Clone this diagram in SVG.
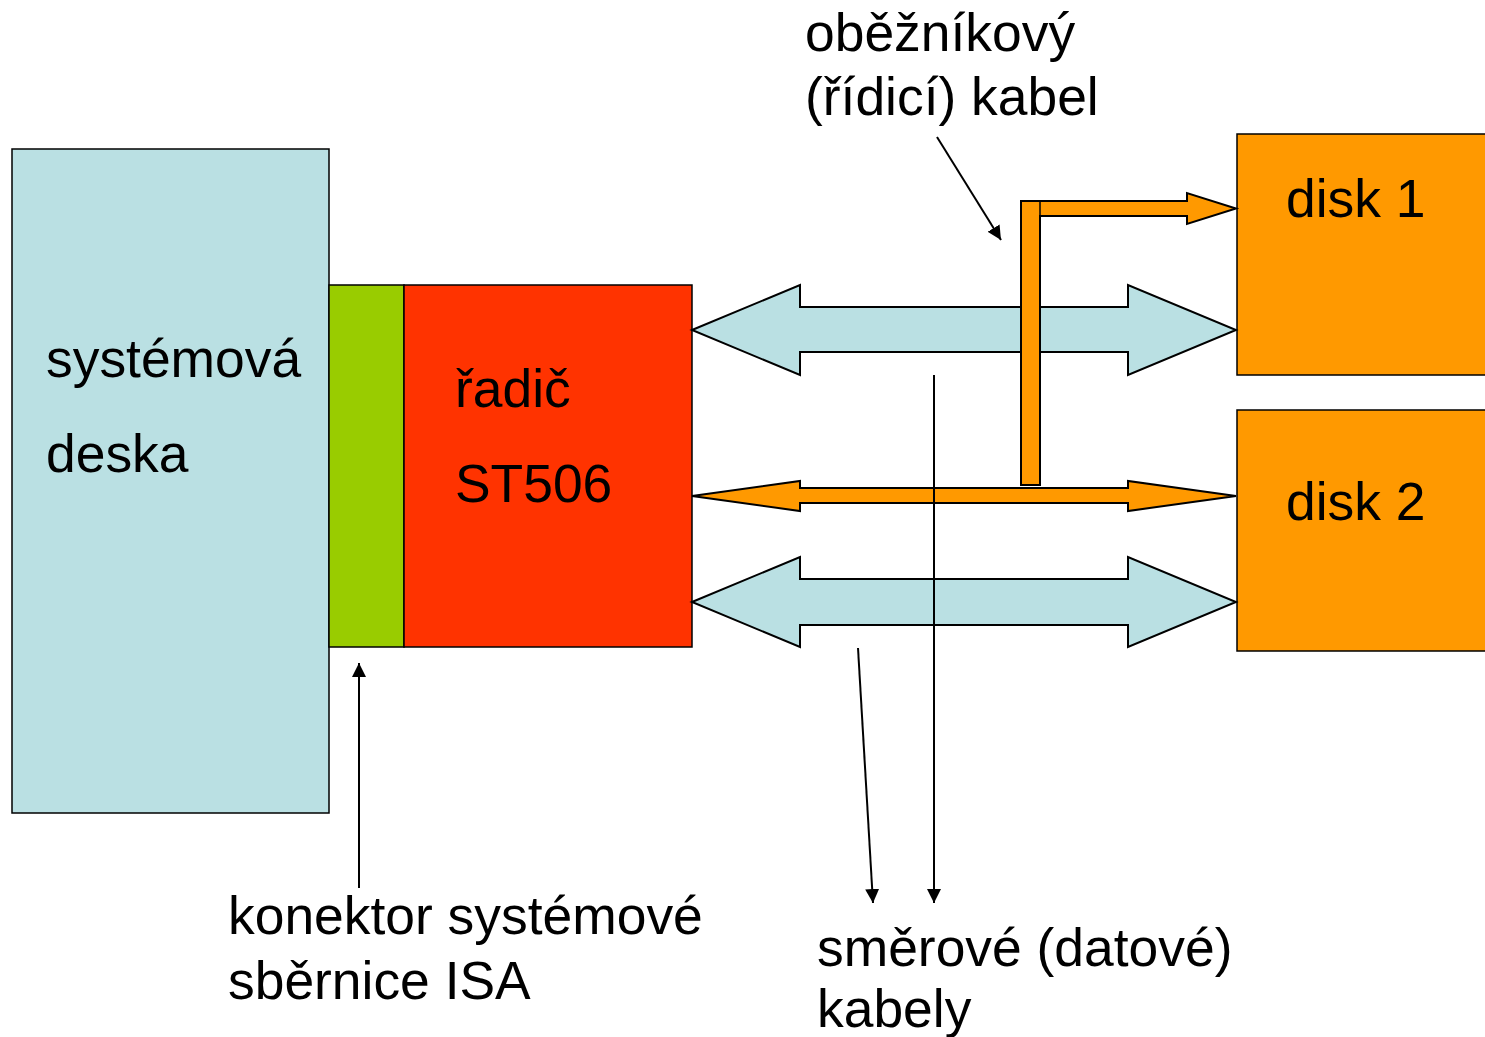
<svg xmlns="http://www.w3.org/2000/svg" width="1485" height="1037" viewBox="0 0 1485 1037">
<defs>
<style>
text{font-family:"Liberation Sans",Arial,sans-serif;font-size:53.4px;fill:#000}
.box{stroke:#000;stroke-width:1.5}
.ln{stroke:#000;stroke-width:2;fill:none}
.blue{fill:#BAE0E3}
.org{fill:#FF9900}
.arr{stroke:#000;stroke-width:2;stroke-linejoin:miter}
</style>
<marker id="ah" viewBox="0 0 10 10" refX="10" refY="5" markerWidth="14" markerHeight="14" markerUnits="userSpaceOnUse" orient="auto">
<path d="M0,0 L10,5 L0,10 Z" fill="#000"/>
</marker>
</defs>
<rect width="1485" height="1037" fill="#fff"/>
<g id="deska">
<rect class="box blue" x="12" y="149" width="317" height="664"/>
<text x="46" y="377">systémová</text>
<text x="46" y="472">deska</text>
</g>
<g id="konektor">
<rect class="box" fill="#99CC00" x="329" y="285" width="75" height="362"/>
</g>
<g id="radic">
<rect class="box" fill="#FF3300" x="404" y="285" width="288" height="362"/>
<text x="455" y="407">řadič</text>
<text x="455" y="502">ST506</text>
</g>
<g id="disk1">
<rect class="box org" x="1237" y="134" width="250" height="241"/>
<text x="1286" y="217">disk 1</text>
</g>
<g id="disk2">
<rect class="box org" x="1237" y="410" width="250" height="241"/>
<text x="1286" y="520">disk 2</text>
</g>
<g id="connectors">
<path class="arr blue" d="M692,330 L800,285 L800,307 L1128,307 L1128,285 L1236,330 L1128,375 L1128,352 L800,352 L800,375 Z"/>
<path class="arr blue" d="M692,602 L800,557 L800,579 L1128,579 L1128,557 L1236,602 L1128,647 L1128,625 L800,625 L800,647 Z"/>
<path class="arr org" d="M1021,485 L1021,201 L1187,201 L1187,193 L1236,208.5 L1187,224 L1187,216 L1040,216 L1040,485 Z"/>
<line x1="1040" y1="216" x2="1040" y2="201" stroke="#000" stroke-width="1.5"/>
<path class="arr org" d="M692,496 L800,481 L800,488 L1128,488 L1128,481 L1236,496 L1128,511 L1128,503 L800,503 L800,511 Z"/>
<line class="ln" x1="934" y1="375" x2="934" y2="903" marker-end="url(#ah)"/>
<line class="ln" x1="858" y1="648" x2="873" y2="903" marker-end="url(#ah)"/>
<line class="ln" x1="937" y1="137" x2="1001" y2="240" marker-end="url(#ah)"/>
<line class="ln" x1="359" y1="888" x2="359" y2="663" marker-end="url(#ah)"/>
</g>
<g id="labels">
<text x="805" y="51">oběžníkový</text>
<text x="805" y="115">(řídicí) kabel</text>
<text x="228" y="934">konektor systémové</text>
<text x="228" y="999">sběrnice ISA</text>
<text x="817" y="966">směrové (datové)</text>
<text x="817" y="1027">kabely</text>
</g>
</svg>
